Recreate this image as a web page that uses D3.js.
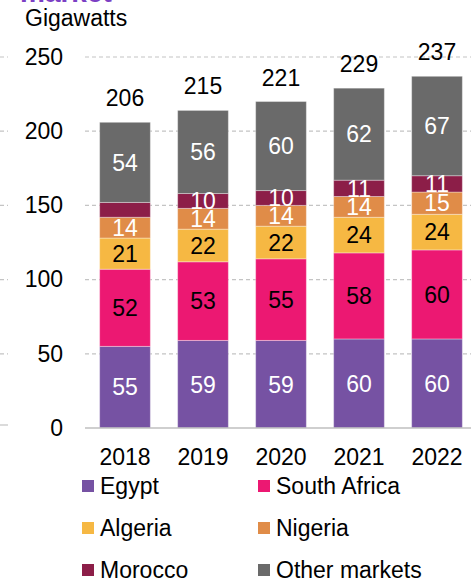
<!DOCTYPE html>
<html>
<head>
<meta charset="utf-8">
<script src="https://cdn.jsdelivr.net/npm/d3@7"></script>
<style>
  body { margin: 0; background: #fff; }
  svg text { font-family: "Liberation Sans", Arial, sans-serif; }
</style>
</head>
<body>
<div id="chart"></div>
<script>
  // data
  var years = ["2018", "2019", "2020", "2021", "2022"];
  var markets = ["Egypt", "South Africa", "Algeria", "Nigeria", "Morocco", "Other markets"];
  var egypt = [55, 59, 59, 60, 60];
  var southAfrica = [52, 53, 55, 58, 60];
  var algeria = [21, 22, 22, 24, 24];
  var nigeria = [14, 14, 14, 14, 15];
  var morocco = [10, 10, 10, 11, 11];
  var otherMarkets = [54, 56, 60, 62, 67];
  var totals = [206, 215, 221, 229, 237];
  var yTicks = [0, 50, 100, 150, 200, 250];
  var hiddenLabels = ["Morocco|2018"]; // label not shown in original

  var colors = ["#7652a3", "#ec1872", "#f6b843", "#e08c48", "#8c1e48", "#6a6a6a"];
  var labelColors = ["#fff", "#000", "#000", "#fff", "#fff", "#fff"];
  var fs = 23;

  var W = 471, H = 582;
  var svg = d3.select("#chart").append("svg")
    .attr("width", W)
    .attr("height", H);

  // build rows for the stack
  var series = [egypt, southAfrica, algeria, nigeria, morocco, otherMarkets];
  var rows = years.map(function (y, i) {
    var r = { year: y };
    markets.forEach(function (m, k) { r[m] = series[k][i]; });
    return r;
  });
  var stacked = d3.stack().keys(markets)(rows);

  var x = d3.scaleBand()
    .domain(years)
    .range([86, 476])
    .paddingInner(0.35)
    .paddingOuter(0.175);

  var y = d3.scaleLinear()
    .domain([0, 250])
    .range([428, 57]);

  // cut-off title of the slide
  svg.append("text")
    .attr("x", 20)
    .attr("y", 2)
    .attr("font-size", 28)
    .attr("font-weight", "bold")
    .attr("fill", "#7b3fc4")
    .text("market");

  svg.append("text")
    .attr("x", 25)
    .attr("y", 26)
    .attr("font-size", fs)
    .attr("fill", "#000")
    .text("Gigawatts");

  // gridlines
  svg.append("g")
    .selectAll("line")
    .data(yTicks.filter(function (d) { return d > 0; }))
    .enter()
    .append("line")
    .attr("x1", 85).attr("x2", W)
    .attr("y1", function (d) { return y(d); })
    .attr("y2", function (d) { return y(d); })
    .attr("stroke", "#c4c4c4")
    .attr("stroke-width", 1.2)
    .attr("stroke-dasharray", "4,3");

  // fragments of the neighbouring chart on the left
  svg.append("g")
    .selectAll("line")
    .data(yTicks)
    .enter()
    .append("line")
    .attr("x1", 0).attr("x2", 8)
    .attr("y1", function (d) { return d === 0 ? y(d) - 3 : y(d); })
    .attr("y2", function (d) { return d === 0 ? y(d) - 3 : y(d); })
    .attr("stroke", "#c4c4c4")
    .attr("stroke-width", 1.2)
    .attr("stroke-dasharray", function (d) { return d === 0 ? null : "4,3"; });

  // y axis labels
  var yAxis = svg.append("g")
    .attr("transform", "translate(63,0)")
    .call(d3.axisLeft(y).tickValues(yTicks).tickSize(0).tickPadding(0));
  yAxis.select(".domain").remove();
  yAxis.selectAll("text")
    .attr("font-size", fs)
    .attr("fill", "#000");

  // bars
  var layer = svg.append("g")
    .selectAll("g")
    .data(stacked)
    .enter()
    .append("g")
    .attr("fill", function (d, i) { return colors[i]; });

  layer.selectAll("rect")
    .data(function (d) { return d; })
    .enter()
    .append("rect")
    .attr("x", function (d) { return x(d.data.year); })
    .attr("width", x.bandwidth())
    .attr("y", function (d) { return y(d[1]); })
    .attr("height", function (d) { return y(d[0]) - y(d[1]); })
    .attr("stroke", "rgba(255,255,255,0.35)")
    .attr("stroke-width", 1);

  // segment labels
  stacked.forEach(function (s, k) {
    svg.append("g")
      .selectAll("text")
      .data(s.filter(function (d) { return hiddenLabels.indexOf(s.key + "|" + d.data.year) < 0; }))
      .enter()
      .append("text")
      .attr("x", function (d) { return x(d.data.year) + x.bandwidth() / 2; })
      .attr("y", function (d) { return (y(d[0]) + y(d[1])) / 2; })
      .attr("dy", "0.36em")
      .attr("text-anchor", "middle")
      .attr("font-size", fs)
      .attr("fill", labelColors[k])
      .text(function (d) { return d.data[s.key]; });
  });

  // totals
  svg.append("g")
    .selectAll("text")
    .data(years)
    .enter()
    .append("text")
    .attr("x", function (d) { return x(d) + x.bandwidth() / 2; })
    .attr("y", function (d, i) { return y(d3.sum(series, function (s) { return s[i]; })) - 16; })
    .attr("text-anchor", "middle")
    .attr("font-size", fs)
    .attr("fill", "#000")
    .text(function (d, i) { return totals[i]; });

  // baseline
  svg.append("line")
    .attr("x1", 85).attr("x2", W)
    .attr("y1", y(0)).attr("y2", y(0))
    .attr("stroke", "#bfbfbf")
    .attr("stroke-width", 1.5);

  // x axis labels
  var xAxis = svg.append("g")
    .attr("transform", "translate(0," + y(0) + ")")
    .call(d3.axisBottom(x).tickSize(0).tickPadding(21));
  xAxis.select(".domain").remove();
  xAxis.selectAll("text")
    .attr("font-size", fs)
    .attr("fill", "#000");

  // legend
  var legend = svg.append("g")
    .selectAll("g")
    .data(markets)
    .enter()
    .append("g")
    .attr("transform", function (d, i) {
      return "translate(" + (i % 2 === 0 ? 82 : 258) + "," + (480 + Math.floor(i / 2) * 42) + ")";
    });

  legend.append("rect")
    .attr("width", 12)
    .attr("height", 12)
    .attr("fill", function (d, i) { return colors[i]; });

  legend.append("text")
    .attr("x", 18)
    .attr("y", 6)
    .attr("dy", "0.36em")
    .attr("font-size", fs)
    .attr("fill", "#000")
    .text(function (d) { return d; });
</script>
</body>
</html>
